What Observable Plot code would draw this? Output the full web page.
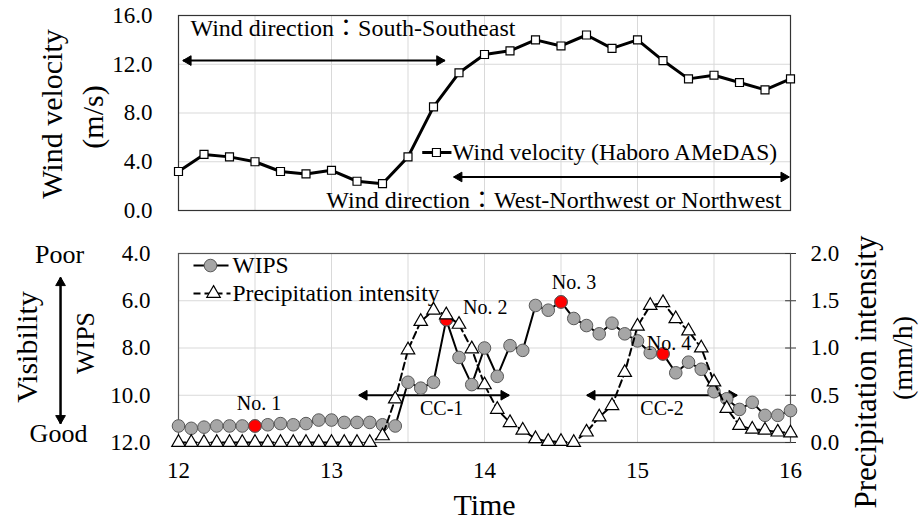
<!DOCTYPE html>
<html><head><meta charset="utf-8">
<script src="https://cdn.jsdelivr.net/npm/d3@7"></script>
<script src="https://cdn.jsdelivr.net/npm/@observablehq/plot@0.6"></script>
<style>
html,body{margin:0;padding:0;background:#fff;}
#chart{width:919px;}
#chart svg{display:block;}
#chart svg text{font-family:'Liberation Serif','Times New Roman','Noto Sans CJK JP',serif !important;}
</style></head>
<body><div id="chart"></div>
<script>
// ---- data ----
const windMinutes = [0,10,20,30,40,50,60,70,80,90,100,110,120,130,140,150,160,170,180,190,200,210,220,230,240];
const windSpeed = [3.2,4.6,4.4,4.0,3.2,3.0,3.3,2.4,2.2,4.4,8.5,11.3,12.8,13.1,14.0,13.5,14.4,13.3,14.0,12.3,10.8,11.1,10.5,9.9,10.8];
const sampleMinutes = [0,5,10,15,20,25,30,35,40,45,50,55,60,65,70,75,80,85,90,95,100,105,110,115,120,125,130,135,140,145,150,155,160,165,170,175,180,185,190,195,200,205,210,215,220,225,230,235,240];
const wipsValues = [11.3,11.4,11.35,11.3,11.3,11.3,11.3,11.25,11.2,11.25,11.2,11.05,11.05,11.15,11.15,11.15,11.25,11.3,
  9.45,9.7,9.45,6.8,8.4,9.55,8.0,9.2,7.9,8.1,6.2,6.4,6.05,6.75,7.05,7.4,6.95,7.4,7.7,8.2,8.25,9.05,8.6,8.9,9.85,10.15,10.6,10.3,10.85,10.85,10.65];
const precipValues = [0,0,0,0,0,0,0,0,0,0,0,0,0,0,0,0,
  0.07,0.46,0.98,1.28,1.4,1.35,1.25,0.99,0.61,0.35,0.21,0.13,0.04,0.01,0.01,0.0,0.11,0.27,0.39,0.74,1.23,1.45,1.48,1.31,1.18,1.0,0.64,0.36,0.18,0.14,0.13,0.11,0.1];
const highlightIndex = [6,21,30,38];
const highlightLabels = ["No. 1","No. 2","No. 3","No. 4"];
const timeTicks = [12,13,14,15,16];
const gridTimes = [12.5,13,13.5,14,14.5,15,15.5];
const windTicks = [0,4,8,12,16];
const wipsTicks = [4,6,8,10,12];
const precipTicks = [0,0.5,1,1.5,2];

// ---- helpers ----
const SERIF = "'Liberation Serif','Times New Roman','Noto Sans CJK JP',serif";
const toHour = m => 12 + m/60;
const pToY = p => 12 - 4*p;   // precipitation (0–2) onto the reversed WIPS scale (12–4)
const T = d => d;
const F = {fontFamily: SERIF};
// double-headed arrow with filled heads; horizontal when ya === yb, otherwise vertical
function dblArrow(xa, xb, ya, yb, sw = 2) {
  const head = {symbol:"triangle", r:3.6, fill:"#000", stroke:"#000", strokeWidth:1};
  const off = 5.2;
  const marks = [Plot.link([0], {x1:xa, x2:xb, y1:ya, y2:yb, stroke:"#000", strokeWidth:sw})];
  if (ya === yb) {
    marks.push(Plot.dot([0], {...head, x:xa, y:ya, rotate:-90, dx:off}));
    marks.push(Plot.dot([0], {...head, x:xb, y:yb, rotate:90, dx:-off}));
  } else {
    marks.push(Plot.dot([0], {...head, x:xa, y:ya, rotate:0, dy:off}));
    marks.push(Plot.dot([0], {...head, x:xb, y:yb, rotate:180, dy:-off}));
  }
  return marks;
}
const vText = (s, o) => Plot.text([s], {...F, text:T, rotate:-90, textAnchor:"middle", lineAnchor:"middle", fontSize:30, ...o});
const hText = (s, o) => Plot.text([s], {...F, text:T, textAnchor:"middle", lineAnchor:"middle", ...o});

const windData = windMinutes.map((m,i) => ({t: toHour(m), v: windSpeed[i]}));
const sampleData = sampleMinutes.map((m,i) => ({t: toHour(m), wips: wipsValues[i], precip: precipValues[i]}));
const hiData = highlightIndex.map((k,j) => ({...sampleData[k], label: highlightLabels[j]}));
const labelOffsets = [[4,-22],[39,-12],[13,-19],[6,-10]];

// ---- top panel ----
const topPlot = Plot.plot({
  width:919, height:222, marginLeft:178, marginRight:129, marginTop:15, marginBottom:12,
  style:{fontFamily:SERIF, fontSize:"23px", color:"#000", background:"#fff", overflow:"visible"},
  x:{domain:[12,16], axis:null},
  y:{domain:[0,16]},
  marks:[
    Plot.ruleX(gridTimes, {stroke:"#d9d9d9", strokeWidth:1}),
    Plot.ruleY(windTicks.slice(1,-1), {stroke:"#d9d9d9", strokeWidth:1}),
    Plot.frame({stroke:"#333", strokeWidth:1.2}),
    Plot.axisY(windTicks, {...F, tickSize:0, tickPadding:26, tickFormat:d3.format(".1f"), fontSize:23, label:null}),
    vText("Wind velocity", {frameAnchor:"left", dx:-126, dy:1}),
    vText("(m/s)", {frameAnchor:"left", dx:-85, dy:4}),
    hText("Wind direction：South-Southeast", {x:12.078, y:14.93, textAnchor:"start", fontSize:24}),
    dblArrow(12.03, 13.74, 12.3, 12.3),
    hText("Wind direction：West-Northwest or Northwest", {x:15.94, y:0.82, textAnchor:"end", fontSize:24}),
    dblArrow(13.8, 15.99, 2.75, 2.75),
    Plot.line(windData, {x:"t", y:"v", stroke:"#000", strokeWidth:3}),
    Plot.dot(windData, {x:"t", y:"v", symbol:"square", r:4.5, fill:"#fff", stroke:"#000", strokeWidth:1.2}),
    // legend
    Plot.link([0], {x1:13.593, x2:13.784, y1:4.76, y2:4.76, stroke:"#000", strokeWidth:3}),
    Plot.dot([0], {x:13.686, y:4.76, symbol:"square", r:4.5, fill:"#fff", stroke:"#000", strokeWidth:1.2}),
    hText("Wind velocity (Haboro AMeDAS)", {x:13.79, y:4.76, textAnchor:"start", fontSize:23.5})
  ]
});

// ---- bottom panel ----
const bottomPlot = Plot.plot({
  width:919, height:301, marginLeft:178, marginRight:129, marginTop:31, marginBottom:81,
  style:{fontFamily:SERIF, fontSize:"23px", color:"#000", background:"#fff", overflow:"visible"},
  x:{domain:[12,16]},
  y:{domain:[12,4]},
  marks:[
    Plot.ruleX(gridTimes, {stroke:"#d9d9d9", strokeWidth:1}),
    Plot.ruleY([6,8,10], {stroke:"#d9d9d9", strokeWidth:1}),
    Plot.frame({stroke:"#555", strokeWidth:1.2}),
    Plot.axisY(wipsTicks, {...F, anchor:"left", tickSize:0, tickPadding:28, tickFormat:d3.format(".1f"), fontSize:23, label:null}),
    Plot.axisY(precipTicks.map(pToY), {...F, anchor:"right", tickSize:5, tickPadding:15, stroke:"#333",
      tickFormat: v => ((12 - v)/4).toFixed(1), fontSize:23, label:null}),
    Plot.ruleY(precipTicks.map(pToY), {x1:15.968, x2:16, stroke:"#333"}),
    Plot.axisX(timeTicks, {...F, tickSize:0, tickPadding:19, tickFormat:d => String(d), fontSize:23, label:null}),
    // titles
    vText("Visibility", {frameAnchor:"left", dx:-151, dy:-1}),
    vText("WIPS", {frameAnchor:"left", dx:-93, dy:-5, fontSize:26}),
    hText("Poor", {frameAnchor:"top-left", dx:-119, dy:1, fontSize:26}),
    hText("Good", {frameAnchor:"bottom-left", dx:-120, dy:-9, fontSize:26}),
    dblArrow(11.229, 11.229, 5.02, 11.2, 2.5),
    hText("Time", {frameAnchor:"bottom", dy:63, fontSize:30}),
    vText("Precipitation intensity", {frameAnchor:"right", dx:76, dy:24, fontSize:31}),
    vText("(mm/h)", {frameAnchor:"right", dx:113, dy:10, fontSize:28}),
    // CC arrows
    dblArrow(13.18, 14.16, 10.0, 10.0),
    dblArrow(14.67, 15.65, 10.0, 10.0),
    hText("CC-1", {x:13.72, y:10.56, fontSize:20}),
    hText("CC-2", {x:15.16, y:10.56, fontSize:20}),
    // WIPS
    Plot.line(sampleData, {x:"t", y:"wips", stroke:"#000", strokeWidth:2}),
    Plot.dot(sampleData, {x:"t", y:"wips", r:6.3, fill:"#a6a6a6", stroke:"#595959", strokeWidth:1}),
    Plot.dot(hiData, {x:"t", y:"wips", r:6.3, fill:"#ff0000", stroke:"#595959", strokeWidth:1}),
    hiData.map((d,j) => Plot.text([d], {...F, x:"t", y:"wips", text:"label", dx:labelOffsets[j][0], dy:labelOffsets[j][1], fontSize:20})),
    // precipitation
    Plot.line(sampleData, {x:"t", y:d => pToY(d.precip), stroke:"#000", strokeWidth:2, strokeDasharray:"7,4"}),
    Plot.dot(sampleData, {x:"t", y:d => pToY(d.precip), symbol:"triangle", r:5, fill:"#fff", stroke:"#000", strokeWidth:1.2}),
    // legend
    Plot.link([0], {x1:12.098, x2:12.327, y1:4.51, y2:4.51, stroke:"#000", strokeWidth:2}),
    Plot.dot([0], {x:12.209, y:4.51, r:6.3, fill:"#a6a6a6", stroke:"#595959", strokeWidth:1}),
    hText("WIPS", {x:12.353, y:4.51, textAnchor:"start", fontSize:23.5}),
    Plot.link([0], {x1:12.098, x2:12.34, y1:5.69, y2:5.69, stroke:"#000", strokeWidth:2, strokeDasharray:"7,4"}),
    Plot.dot([0], {x:12.229, y:5.69, symbol:"triangle", r:5, fill:"#fff", stroke:"#000", strokeWidth:1.2}),
    hText("Precipitation intensity", {x:12.353, y:5.69, textAnchor:"start", fontSize:23.5})
  ]
});

const host = document.getElementById("chart");
host.append(topPlot, bottomPlot);
</script>
</body></html>
